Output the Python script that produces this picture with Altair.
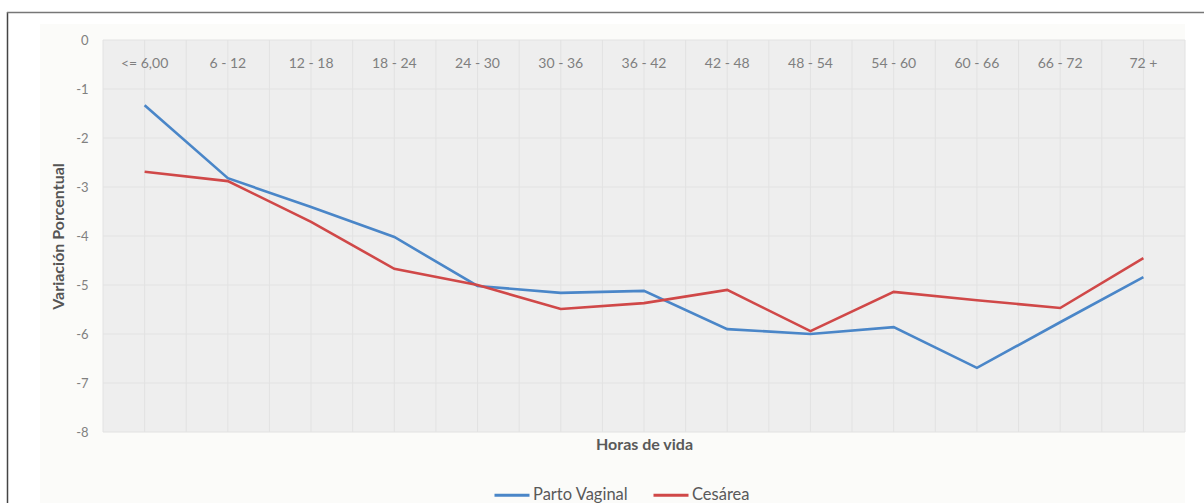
import altair as alt
import pandas as pd

# Hour-of-life bins
categories = ["<= 6,00", "6 - 12", "12 - 18", "18 - 24", "24 - 30", "30 - 36",
              "36 - 42", "42 - 48", "48 - 54", "54 - 60", "60 - 66", "66 - 72", "72 +"]

# Percent weight change per bin
parto_vaginal = [-1.33, -2.82, -3.41, -4.02, -5.02, -5.16, -5.12,
                 -5.90, -6.00, -5.86, -6.69, -5.76, -4.84]
cesarea = [-2.69, -2.88, -3.71, -4.67, -5.00, -5.49, -5.37,
           -5.10, -5.94, -5.14, -5.31, -5.47, -4.45]

series_names = ["Parto Vaginal", "Cesárea"]
series_colors = ["#4a86c8", "#d04848"]

y_ticks = [0, -1, -2, -3, -4, -5, -6, -7, -8]

W, H = 1082, 392
PAD_L, PAD_T, PAD_R, PAD_B = 103, 40, 19, 71

rows = []
for i, c in enumerate(categories):
    rows.append({"idx": i, "cat": c, "serie": series_names[0], "valor": parto_vaginal[i]})
    rows.append({"idx": i, "cat": c, "serie": series_names[1], "valor": cesarea[i]})
df = pd.DataFrame(rows)
cat_df = pd.DataFrame({"idx": list(range(len(categories))), "cat": categories})

n = len(categories)
x_scale = alt.Scale(domain=[-0.5, n - 0.5], nice=False, zero=False)
y_scale = alt.Scale(domain=[-8, 0], nice=False)
# gridlines at every category centre and every band boundary
grid_x = [k / 2 for k in range(-1, 2 * n)]

FONT = "Lato"
one = pd.DataFrame({"k": [0]})

# Off-white chart area and the outer frame lines
frame = alt.Chart(one).mark_rect(color="#fbfbf9").encode(
    x=alt.value(40 - PAD_L), x2=alt.value(1185 - PAD_L),
    y=alt.value(24 - PAD_T), y2=alt.value(503 - PAD_T),
)
border_left = alt.Chart(one).mark_rule(color="#444444", strokeWidth=1.5).encode(
    x=alt.value(7.5 - PAD_L), y=alt.value(12 - PAD_T), y2=alt.value(503 - PAD_T),
)
border_top = alt.Chart(one).mark_rule(color="#777777", strokeWidth=1.5).encode(
    x=alt.value(7 - PAD_L), x2=alt.value(1204 - PAD_L), y=alt.value(12.5 - PAD_T),
)

# Plot-area fill
plot_bg = alt.Chart(one).mark_rect(color="#eeeeee").encode(
    x=alt.value(0), x2=alt.value(W), y=alt.value(0), y2=alt.value(H),
)

# Gridlines
vgrid = alt.Chart(pd.DataFrame({"g": grid_x})).mark_rule(color="#e2e2e2", strokeWidth=1).encode(
    x=alt.X("g:Q", scale=x_scale), y=alt.value(0), y2=alt.value(H),
)
hgrid = alt.Chart(pd.DataFrame({"g": y_ticks})).mark_rule(color="#e2e2e2", strokeWidth=1).encode(
    y=alt.Y("g:Q", scale=y_scale), x=alt.value(0), x2=alt.value(W),
)

lines = alt.Chart(df).mark_line(strokeWidth=2.6).encode(
    x=alt.X("idx:Q", scale=x_scale,
            axis=alt.Axis(values=grid_x, grid=False, labels=False, ticks=False, domain=False,
                          title="Horas de vida", titleFont=FONT, titleFontSize=16,
                          titleFontWeight="bold", titleColor="#595959",
                          titleY=12, titleBaseline="middle", zindex=1)),
    y=alt.Y("valor:Q", scale=y_scale,
            axis=alt.Axis(values=y_ticks, grid=False, ticks=False, domain=False,
                          labelExpr="datum.value < 0 ? '-' + abs(datum.value) : '' + datum.value",
                          labelFont=FONT, labelFontSize=13, labelColor="#808080",
                          labelPadding=15,
                          title="Variación Porcentual", titleFont=FONT, titleFontSize=16,
                          titleFontWeight="bold", titleColor="#555555",
                          titleX=58 - PAD_L, titleY=H / 2, titleAngle=-90,
                          titleBaseline="middle", titleAlign="center", zindex=1)),
    color=alt.Color("serie:N",
                    scale=alt.Scale(domain=series_names, range=series_colors),
                    sort=series_names,
                    legend=alt.Legend(title=None, orient="none", direction="horizontal",
                                      legendX=390, legendY=436,
                                      labelFont=FONT, labelFontSize=16.5, labelColor="#595959",
                                      symbolType="stroke", symbolStrokeWidth=3,
                                      symbolSize=1225, columnPadding=18, labelOffset=2)),
    order="idx:Q",
)

cat_labels = alt.Chart(cat_df).mark_text(
    font=FONT, fontSize=14, color="#7f7f7f", baseline="middle"
).encode(
    x=alt.X("idx:Q", scale=x_scale),
    y=alt.value(24),
    text="cat:N",
)

chart = alt.layer(frame, border_left, border_top, plot_bg, vgrid, hgrid, lines, cat_labels).properties(
    width=W, height=H,
    autosize=alt.AutoSizeParams(type="none"),
    padding={"left": PAD_L, "top": PAD_T, "right": PAD_R, "bottom": PAD_B},
    background="white",
).configure_view(
    stroke=None,
)

chart.save("out.html", embed_options={"renderer": "svg", "actions": False})
